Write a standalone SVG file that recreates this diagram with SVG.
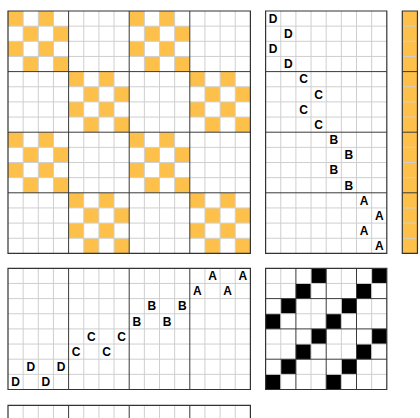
<svg xmlns="http://www.w3.org/2000/svg" xmlns:xlink="http://www.w3.org/1999/xlink" width="420" height="418" viewBox="0 0 420 418">
<style>
.bg{fill:#ffffff}
.or{fill:#FDC14B}
.bk{fill:#000000}
.thin{fill:none;stroke:#cfcfcf;stroke-width:1;vector-effect:non-scaling-stroke}
.major{fill:none;stroke:#3a3a3a;stroke-width:1;vector-effect:non-scaling-stroke}
.border{fill:none;stroke:#333333;stroke-width:1.2;vector-effect:non-scaling-stroke}
.lbl{font-family:"Liberation Sans",Arial,sans-serif;font-weight:bold;font-size:12px;fill:#000;text-anchor:middle}
</style>
<defs>
<g id="chk">
<rect x="0" y="0" width="1" height="1"/><rect x="2" y="0" width="1" height="1"/>
<rect x="1" y="1" width="1" height="1"/><rect x="3" y="1" width="1" height="1"/>
<rect x="0" y="2" width="1" height="1"/><rect x="2" y="2" width="1" height="1"/>
<rect x="1" y="3" width="1" height="1"/><rect x="3" y="3" width="1" height="1"/>
</g>
</defs>
<rect class="bg" x="0" y="0" width="420" height="418"/>

<g id="gridA" transform="translate(8,11) scale(15.15)">
<g class="or">
<use xlink:href="#chk" x="0" y="0"/><use xlink:href="#chk" x="8" y="0"/>
<use xlink:href="#chk" x="4" y="4"/><use xlink:href="#chk" x="12" y="4"/>
<use xlink:href="#chk" x="0" y="8"/><use xlink:href="#chk" x="8" y="8"/>
<use xlink:href="#chk" x="4" y="12"/><use xlink:href="#chk" x="12" y="12"/>
</g>
<path class="thin" d="M0 1H16M0 2H16M0 3H16M0 5H16M0 6H16M0 7H16M0 9H16M0 10H16M0 11H16M0 13H16M0 14H16M0 15H16M1 0V16M2 0V16M3 0V16M5 0V16M6 0V16M7 0V16M9 0V16M10 0V16M11 0V16M13 0V16M14 0V16M15 0V16"/>
<path class="major" d="M0 4H16M0 8H16M0 12H16M4 0V16M8 0V16M12 0V16"/>
<rect class="border" x="0" y="0" width="16" height="16"/>
</g>

<g id="gridB" transform="translate(265.6,11) scale(15.15)">
<path class="thin" d="M0 1H8M0 2H8M0 3H8M0 5H8M0 6H8M0 7H8M0 9H8M0 10H8M0 11H8M0 13H8M0 14H8M0 15H8M1 0V16M2 0V16M3 0V16M4 0V16M5 0V16M6 0V16M7 0V16"/>
<path class="major" d="M0 4H8M0 8H8M0 12H8"/>
<rect class="border" x="0" y="0" width="8" height="16"/>
</g>
<g id="gridB-labels" class="lbl">
<text x="273.18" y="22.88">D</text>
<text x="288.33" y="38.03">D</text>
<text x="273.18" y="53.18">D</text>
<text x="288.33" y="68.33">D</text>
<text x="303.48" y="83.48">C</text>
<text x="318.63" y="98.63">C</text>
<text x="303.48" y="113.78">C</text>
<text x="318.63" y="128.93">C</text>
<text x="333.78" y="144.08">B</text>
<text x="348.93" y="159.23">B</text>
<text x="333.78" y="174.38">B</text>
<text x="348.93" y="189.53">B</text>
<text x="364.08" y="204.68">A</text>
<text x="379.23" y="219.83">A</text>
<text x="364.08" y="234.98">A</text>
<text x="379.23" y="250.13">A</text>
</g>

<g id="strip" transform="translate(402.3,11) scale(15.15)">
<rect class="or" x="0" y="0" width="1" height="16"/>
<path class="thin" d="M0 1H1M0 2H1M0 3H1M0 5H1M0 6H1M0 7H1M0 9H1M0 10H1M0 11H1M0 13H1M0 14H1M0 15H1"/>
<path class="major" d="M0 4H1M0 8H1M0 12H1"/>
<rect class="border" x="0" y="0" width="1" height="16"/>
</g>

<g id="gridC" transform="translate(8,268.3) scale(15.15)">
<path class="thin" d="M0 1H16M0 2H16M0 3H16M0 4H16M0 5H16M0 6H16M0 7H16M1 0V8M2 0V8M3 0V8M5 0V8M6 0V8M7 0V8M9 0V8M10 0V8M11 0V8M13 0V8M14 0V8M15 0V8"/>
<path class="major" d="M4 0V8M8 0V8M12 0V8"/>
<rect class="border" x="0" y="0" width="16" height="8"/>
</g>
<g id="gridC-labels" class="lbl">
<text x="212.53" y="280.18">A</text>
<text x="242.83" y="280.18">A</text>
<text x="197.38" y="295.33">A</text>
<text x="227.68" y="295.33">A</text>
<text x="151.93" y="310.48">B</text>
<text x="182.23" y="310.48">B</text>
<text x="136.78" y="325.63">B</text>
<text x="167.08" y="325.63">B</text>
<text x="91.33" y="340.78">C</text>
<text x="121.63" y="340.78">C</text>
<text x="76.18" y="355.93">C</text>
<text x="106.48" y="355.93">C</text>
<text x="30.73" y="371.08">D</text>
<text x="61.03" y="371.08">D</text>
<text x="15.58" y="386.23">D</text>
<text x="45.88" y="386.23">D</text>
</g>

<g id="gridD" transform="translate(265.6,268.3) scale(15.15)">
<g class="bk">
<rect x="3" y="0" width="1" height="1"/><rect x="7" y="0" width="1" height="1"/>
<rect x="2" y="1" width="1" height="1"/><rect x="6" y="1" width="1" height="1"/>
<rect x="1" y="2" width="1" height="1"/><rect x="5" y="2" width="1" height="1"/>
<rect x="0" y="3" width="1" height="1"/><rect x="4" y="3" width="1" height="1"/>
<rect x="3" y="4" width="1" height="1"/><rect x="7" y="4" width="1" height="1"/>
<rect x="2" y="5" width="1" height="1"/><rect x="6" y="5" width="1" height="1"/>
<rect x="1" y="6" width="1" height="1"/><rect x="5" y="6" width="1" height="1"/>
<rect x="0" y="7" width="1" height="1"/><rect x="4" y="7" width="1" height="1"/>
</g>
<path class="thin" d="M0 1H8M0 3H8M0 5H8M0 7H8M1 0V8M3 0V8M5 0V8M7 0V8"/>
<path class="major" d="M0 2H8M0 4H8M0 6H8M2 0V8M4 0V8M6 0V8"/>
<rect class="border" x="0" y="0" width="8" height="8"/>
</g>

<g id="gridE" transform="translate(8,405.3) scale(15.15)">
<path class="thin" d="M0 1H16M0 2H16M1 0V3M2 0V3M3 0V3M5 0V3M6 0V3M7 0V3M9 0V3M10 0V3M11 0V3M13 0V3M14 0V3M15 0V3"/>
<path class="major" d="M4 0V3M8 0V3M12 0V3"/>
<rect class="border" x="0" y="0" width="16" height="8"/>
</g>
</svg>
